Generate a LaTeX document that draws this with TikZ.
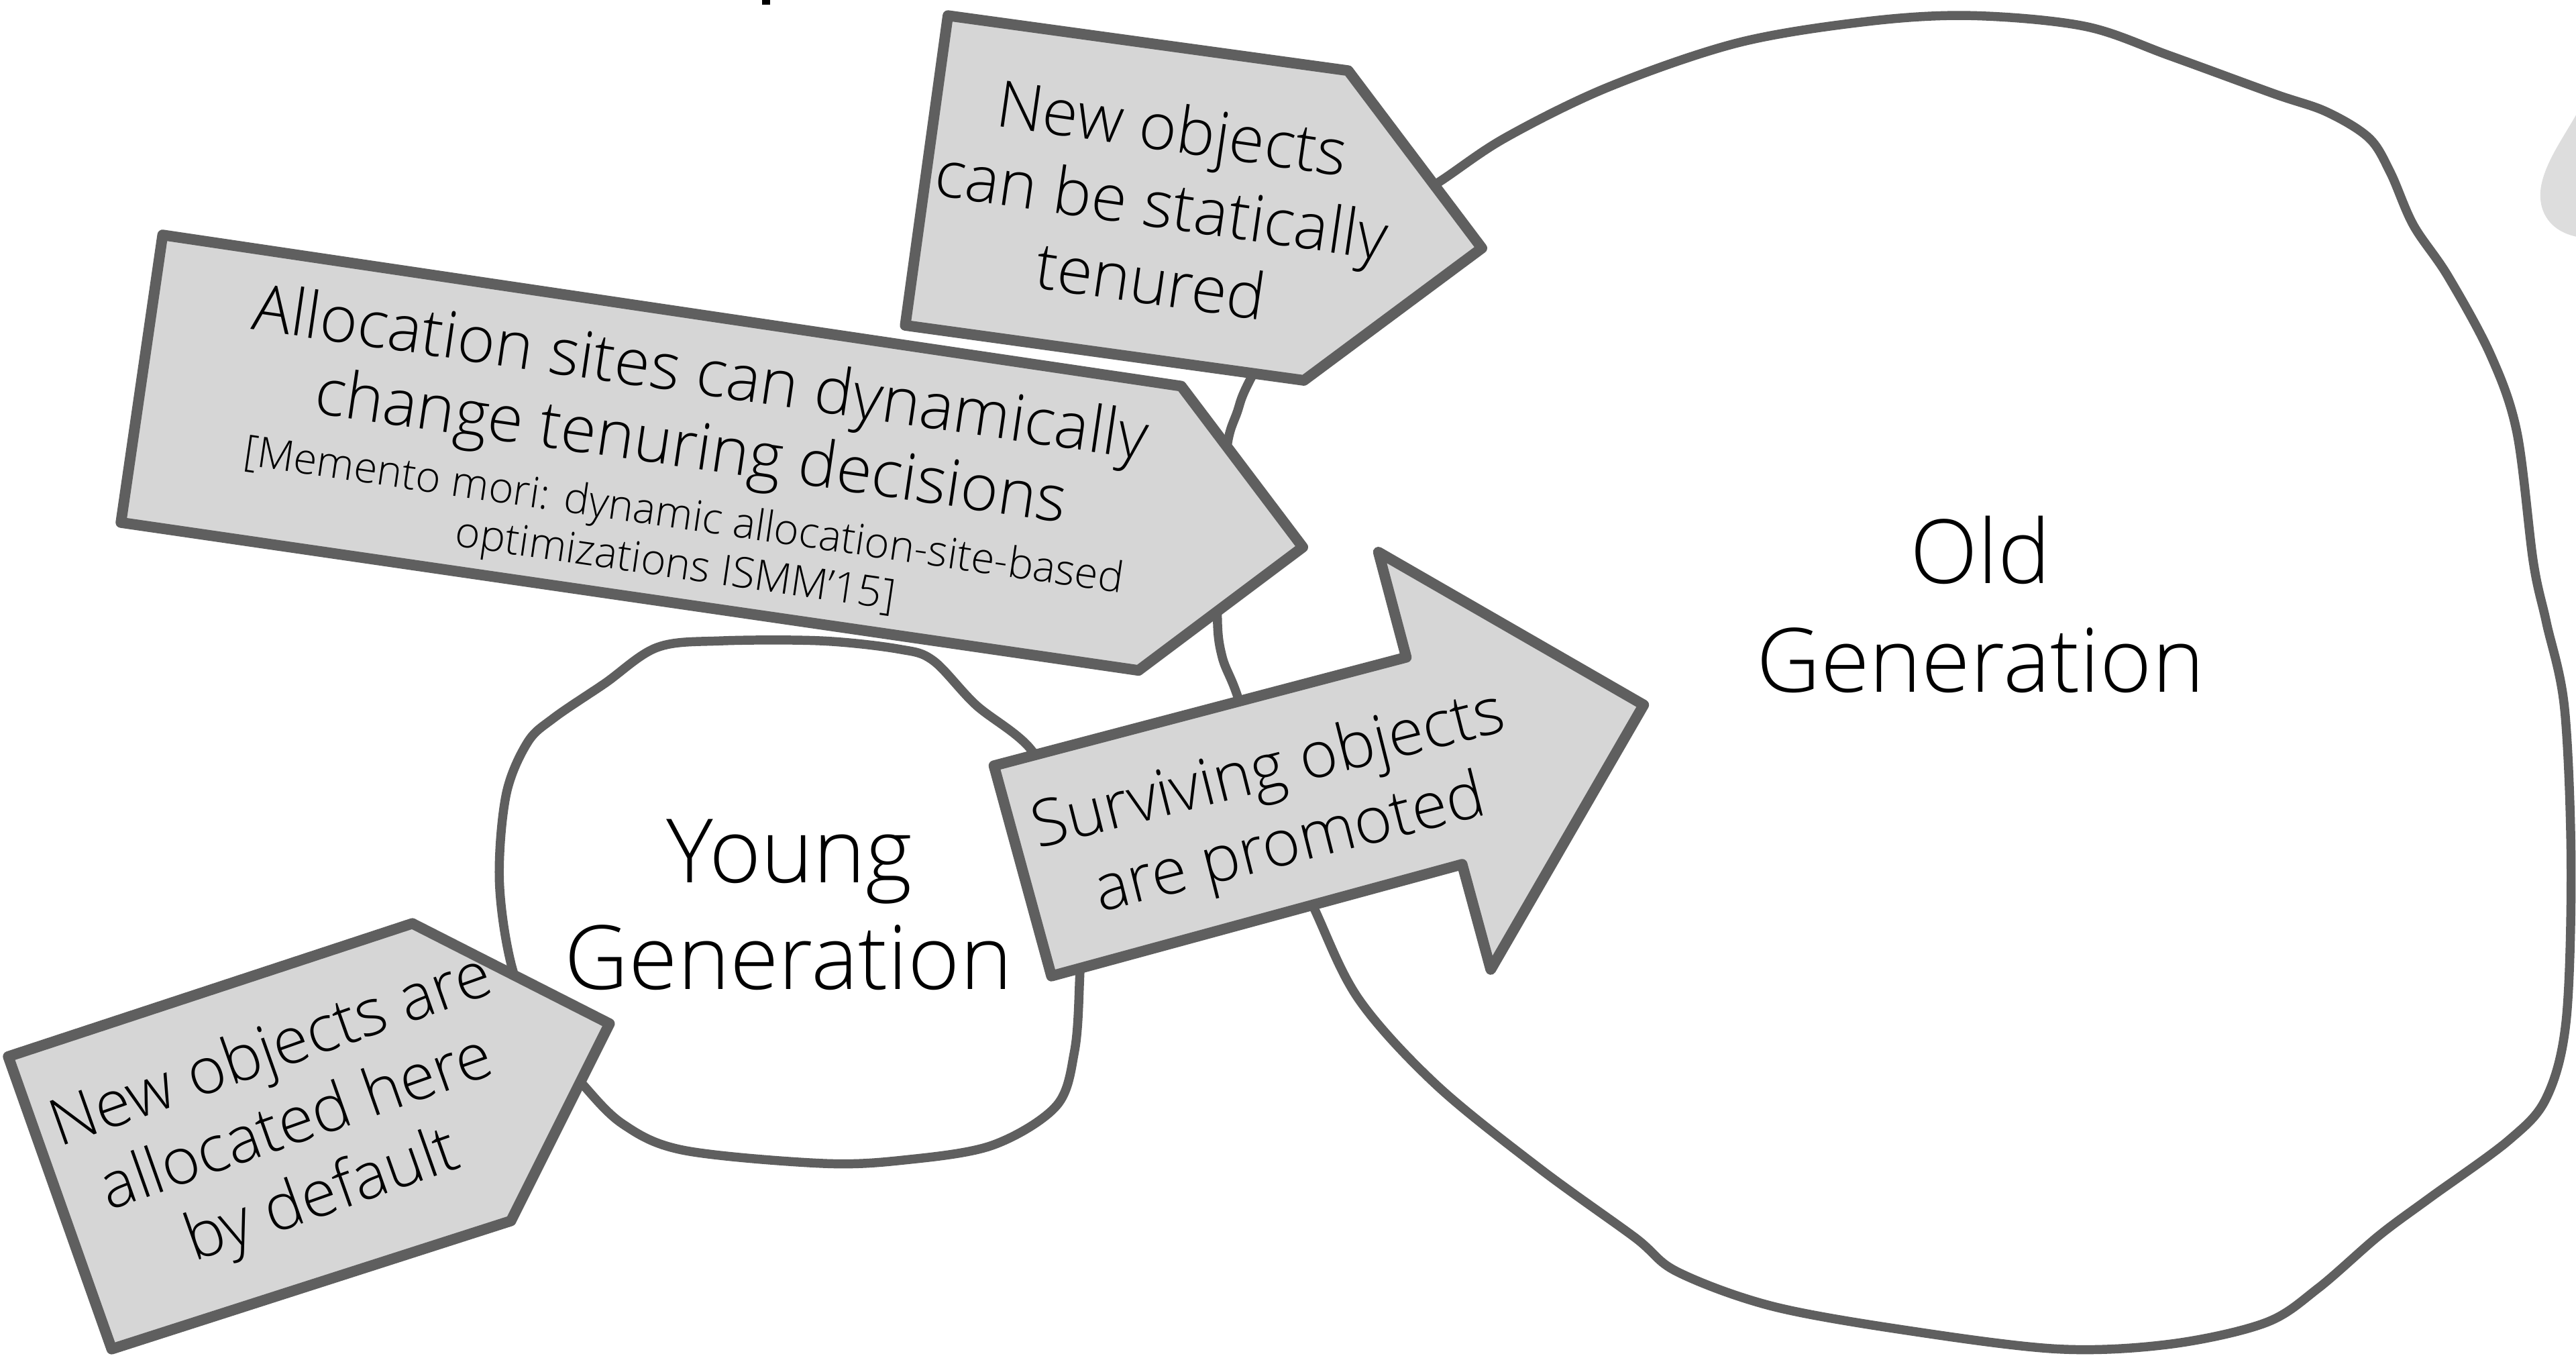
\documentclass[tikz,border=0pt]{standalone}
\usepackage{fontspec}
\setmainfont{Open Sans}[UprightFont = * Light]
\definecolor{edge}{HTML}{5F5F5F}
\definecolor{boxfill}{HTML}{D6D6D6}
\definecolor{dropfill}{HTML}{DDDDDD}
\tikzset{
  callout/.style={draw=edge, fill=boxfill, line width=6.5pt, line join=round},
  region/.style={draw=edge, fill=white, line width=5.5pt, line join=round},
  boxtext/.style={anchor=base, inner sep=0pt, font=\fontsize{39.3}{46}\selectfont},
  smalltext/.style={anchor=base, inner sep=0pt, font=\fontsize{25.9}{30}\selectfont},
  gentext/.style={anchor=base, inner sep=0pt, font=\fontsize{54}{64}\selectfont},
}
\begin{document}
\begin{tikzpicture}[x=1pt, y=-1pt]
  \fill[white] (0,0) rectangle (1568,825);
  \useasboundingbox (0,0) rectangle (1568,825);

  % tail of a heading letter above the frame
  \fill[black] (463.9,0) rectangle (468.7,2.9);

  % light shape at the right edge
  \fill[dropfill] (1568,70) .. controls (1560,84) and (1550,98) .. (1547,112)
    .. controls (1544,126) and (1550,140) .. (1568,144) -- cycle;

  % old generation region
  \draw[region] plot[smooth cycle, tension=0.55] coordinates {
    (874,112) (916,84) (979,53) (1058,26) (1137,13) (1200,9.5) (1269,16)
    (1321,34) (1384,57) (1416,68) (1442,84) (1455,105) (1469,137) (1490,168)
    (1516,216) (1532,263) (1542,342) (1550,379) (1561,431) (1565,526)
    (1562,621) (1550,668) (1527,694) (1479,729) (1448,752) (1411,784)
    (1379,805) (1321,818) (1253,821) (1163,810) (1079,795) (1021,774)
    (995,753) (937,711) (874,660) (827,608) (800,553) (772,490) (754,426)
    (744,400) (741,375) (743,320) (747,271) (753,251) (761,231) (795,170)
    (832,137)};

  % young generation region
  \draw[region] plot[smooth cycle, tension=0.55] coordinates {
    (439,390) (500,390) (547,395) (568,402) (594,429) (629,458) (648,505)
    (657,560) (657,600) (654,640) (643,673) (604,697) (550,706) (500,708)
    (416,700) (379,684) (353,658) (330,630) (312,590) (304,537) (308,484)
    (321,452) (337,437) (368,416) (400,394)};

  % callouts
  \draw[callout] (577,9.5) -- (820.6,43) -- (902,151) -- (793.7,231.5)
    -- (551,198) -- cycle;
  \draw[callout] (99,143) -- (719,235) -- (793,333) -- (693,408)
    -- (73.6,318) -- cycle;
  \draw[callout] (5,643) -- (251,562) -- (371,623) -- (311,743)
    -- (68,821) -- cycle;
  \draw[callout] (605,466) -- (856,400) -- (839,336) -- (1000.5,429)
    -- (907.4,590) -- (890,526) -- (640,594) -- cycle;

  % labels of the static tenuring callout
  \node[boxtext, rotate=-8.2] (st1) at (711.5,92) {New objects};
  \node[boxtext, rotate=-8.2] (st2) at (705,138.5) {can be statically};
  \node[boxtext, rotate=-8.2] (st3) at (698.5,185) {tenured};

  % labels of the dynamic tenuring callout
  \node[boxtext, rotate=-8.3] (dy1) at (424.5,240) {Allocation sites can dynamically};
  \node[boxtext, rotate=-8.3] (dy2) at (418.7,284.7) {change tenuring decisions};
  \node[smalltext, rotate=-8.3] (dy3) at (415,322) {[Memento mori: dynamic allocation-site-based};
  \node[smalltext, rotate=-8.3] (dy4) at (410,351.7) {optimizations ISMM’15]};

  % labels of the default allocation callout
  \node[boxtext, rotate=19.5] (al1) at (169,651) {New objects are};
  \node[boxtext, rotate=19.5] (al2) at (184.5,695) {allocated here};
  \node[boxtext, rotate=19.5] (al3) at (200,739) {by default};

  % labels of the promotion arrow
  \node[boxtext, rotate=14.1] (pr1) at (774.9,480.3) {Surviving objects};
  \node[boxtext, rotate=14.1] (pr2) at (788,525.3) {are promoted};

  % region names
  \node[gentext] (yg1) at (480.5,537) {Young};
  \node[gentext] (yg2) at (480,602) {Generation};
  \node[gentext] (og1) at (1205.6,355) {Old};
  \node[gentext] (og2) at (1205.5,421) {Generation};
\end{tikzpicture}
\end{document}
